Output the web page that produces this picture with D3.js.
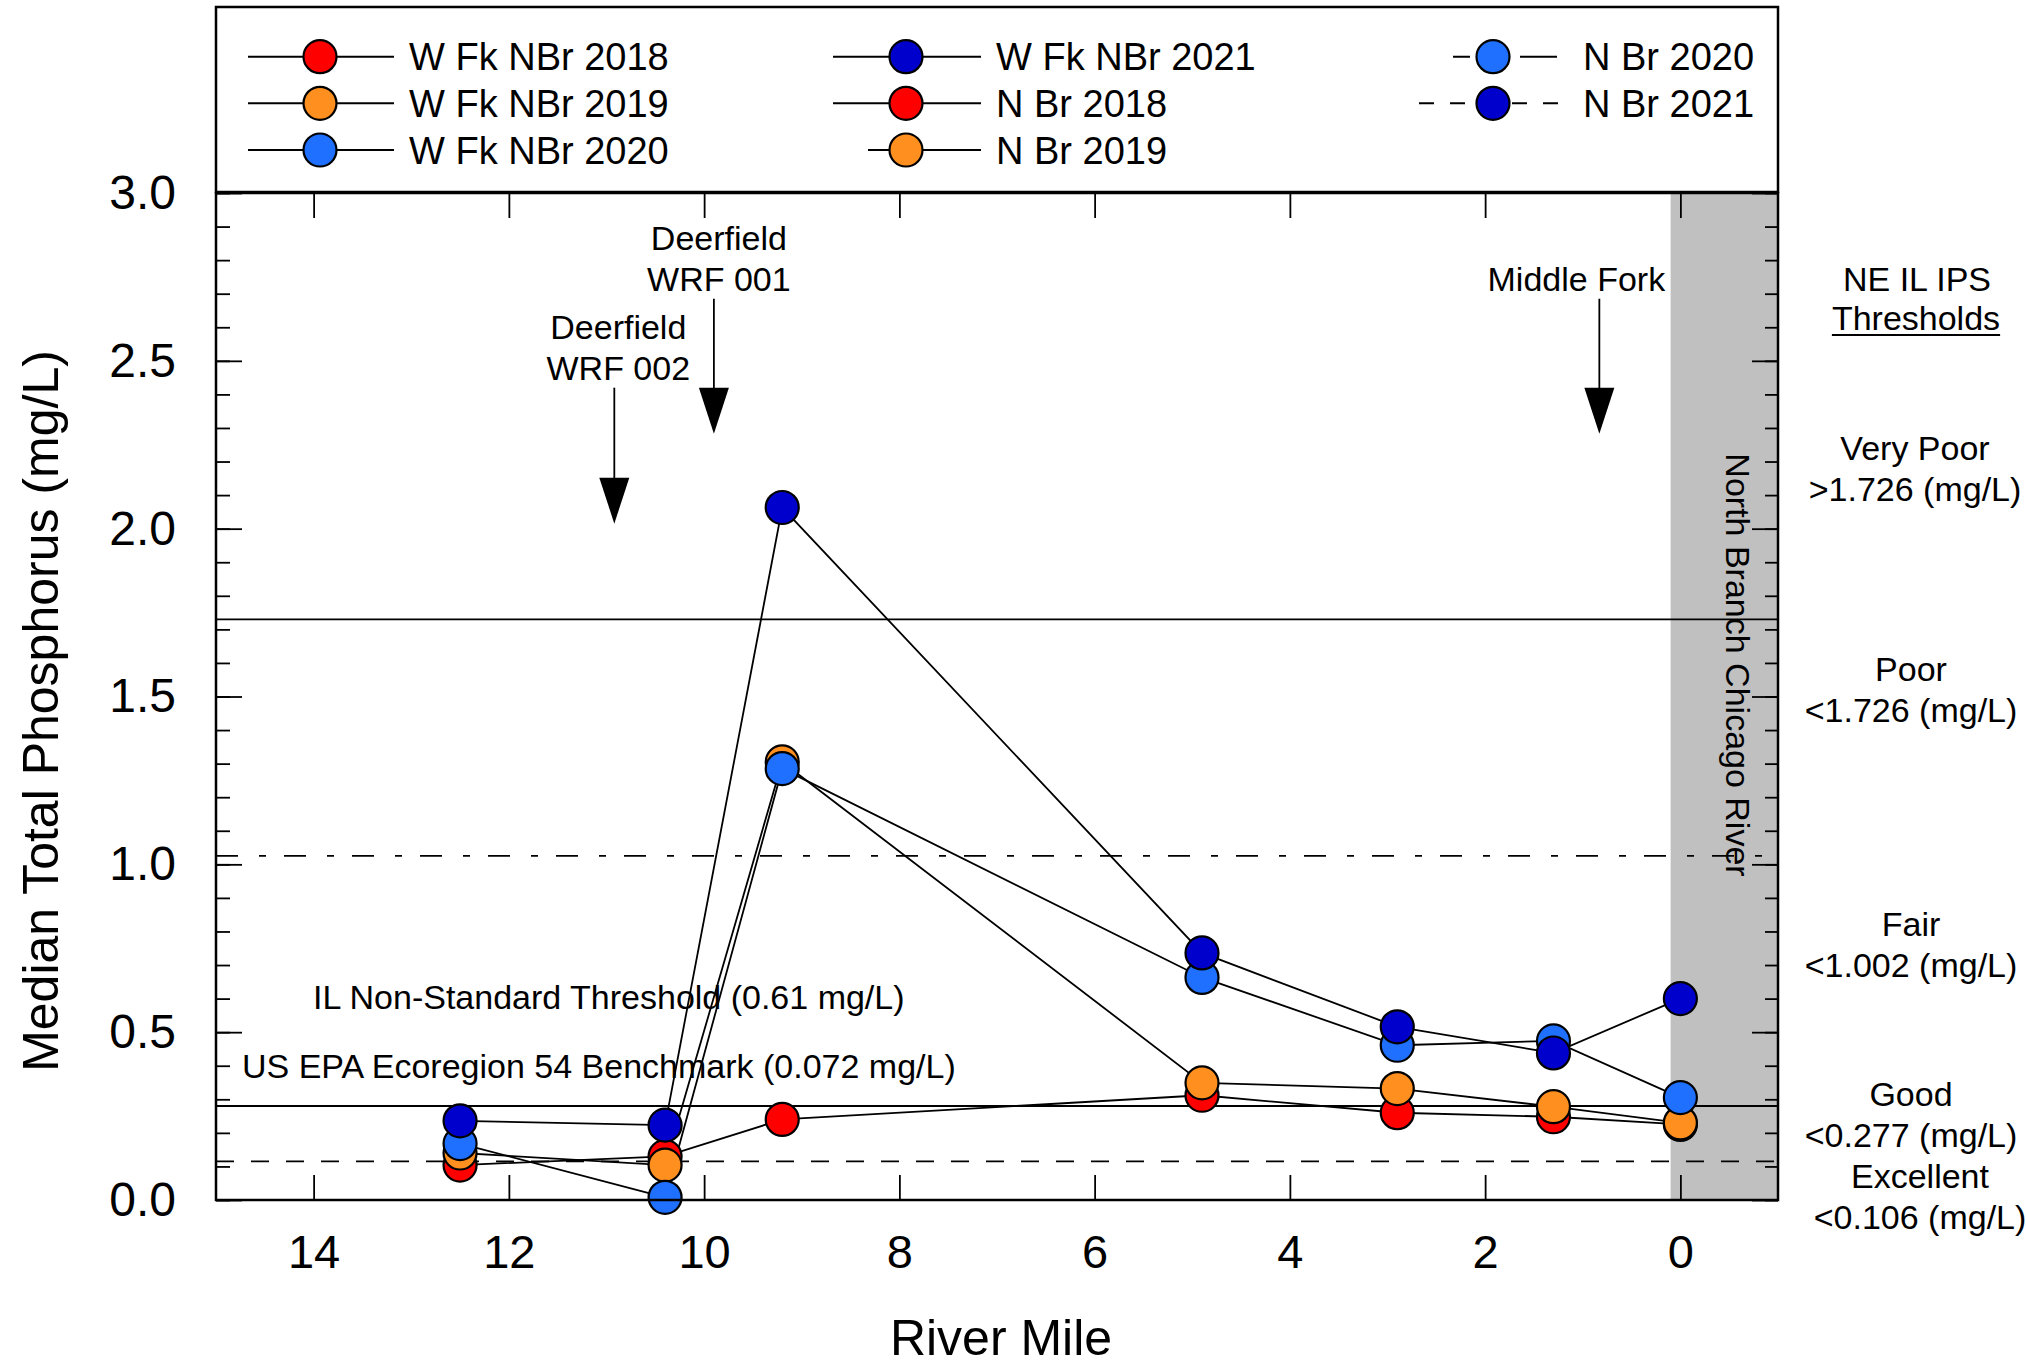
<!DOCTYPE html>
<html>
<head>
<meta charset="utf-8">
<script src="https://cdn.jsdelivr.net/npm/d3@7/dist/d3.min.js"></script>
<style>
body { margin: 0; background: #fff; }
text { font-family: "Liberation Sans", Arial, sans-serif; fill: #000; }
</style>
</head>
<body>
<script>
// sampling sites, river mile
var wfkMiles = [12.5, 10.4, 9.2, 4.9, 2.9, 1.3];
var nbrMiles = [0.0];

// median total phosphorus (mg/L), W Fk NBr sites
var wfk2018 = [0.104, 0.13, 0.24, 0.312, 0.26, 0.248];
var wfk2019 = [0.14, 0.104, 1.305, 0.349, 0.332, 0.278];
var wfk2020 = [0.168, 0.008, 1.285, 0.663, 0.461, 0.474];
var wfk2021 = [0.236, 0.223, 2.063, 0.736, 0.516, 0.438];

// N Br site
var nbr2018 = [0.225];
var nbr2019 = [0.23];
var nbr2020 = [0.305];
var nbr2021 = [0.60];

var years = ["2018", "2019", "2020", "2021"];

// reference lines as drawn
var thresholdValues = [1.73, 1.025, 0.28, 0.115];

var xTickValues = [14, 12, 10, 8, 6, 4, 2, 0];
var yMajorTicks = [0, 0.5, 1.0, 1.5, 2.0, 2.5, 3.0];
var yMinorTicks = d3.range(0, 31).map(function(i) { return i / 10; });

// outfall / tributary arrows
var arrowLabels = [["Deerfield", "WRF 002"], ["Deerfield", "WRF 001"], ["Middle Fork"]];
var arrowMiles = [10.92, 9.9, 0.83];
var arrowTop = [2.42, 2.685, 2.685];
var arrowBottom = [2.015, 2.283, 2.283];

var ipsLabels = [["Very Poor", ">1.726 (mg/L)"], ["Poor", "<1.726 (mg/L)"],
                 ["Fair", "<1.002 (mg/L)"], ["Good", "<0.277 (mg/L)"], ["Excellent", "<0.106 (mg/L)"]];

var colors = {"2018": "#ff0000", "2019": "#ff8f1f", "2020": "#2070ff", "2021": "#0000cc"};

var wfk = {"2018": wfk2018, "2019": wfk2019, "2020": wfk2020, "2021": wfk2021};
var nbr = {"2018": nbr2018, "2019": nbr2019, "2020": nbr2020, "2021": nbr2021};

//svg
var svg = d3.select("body").append("svg")
    .attr("width", 2026)
    .attr("height", 1369);

svg.append("rect").attr("width", 2026).attr("height", 1369).attr("fill", "#fff");

var pLeft = 216, pRight = 1778, pTop = 193, pBottom = 1200;

var x = d3.scaleLinear().domain([15, -1]).range([pLeft, pRight]);
var y = d3.scaleLinear().domain([0, 3]).range([pBottom, pTop]);

// gray band for North Branch
svg.append("rect")
    .attr("x", x(0.1))
    .attr("y", pTop)
    .attr("width", pRight - x(0.1))
    .attr("height", pBottom - pTop)
    .attr("fill", "#c0c0c0");

svg.append("text")
    .attr("transform", "translate(1726," + 665 + ") rotate(90)")
    .attr("text-anchor", "middle")
    .style("font-size", "34px")
    .text("North Branch Chicago River");

// axes (ticks inward, no domain)
function clean(g) { g.select(".domain").remove(); g.selectAll("line").attr("stroke", "#000").attr("stroke-width", 1.8); }

svg.append("g").attr("transform", "translate(" + pLeft + ",0)")
    .call(d3.axisLeft(y).tickValues(yMinorTicks).tickSize(-14).tickFormat(""))
    .call(clean);
svg.append("g").attr("transform", "translate(" + pLeft + ",0)")
    .call(d3.axisLeft(y).tickValues(yMajorTicks).tickSize(-26).tickPadding(40).tickFormat(d3.format(".1f")))
    .call(clean)
    .selectAll("text").style("font-size", "48px").attr("font-family", null);

svg.append("g").attr("transform", "translate(" + pRight + ",0)")
    .call(d3.axisRight(y).tickValues(yMinorTicks).tickSize(-13).tickFormat(""))
    .call(clean);
svg.append("g").attr("transform", "translate(" + pRight + ",0)")
    .call(d3.axisRight(y).tickValues(yMajorTicks).tickSize(-26).tickFormat(""))
    .call(clean);

svg.append("g").attr("transform", "translate(0," + pBottom + ")")
    .call(d3.axisBottom(x).tickValues(xTickValues).tickSize(-25).tickPadding(35).tickFormat(d3.format("d")))
    .call(clean)
    .selectAll("text").style("font-size", "47px").attr("font-family", null);
svg.append("g").attr("transform", "translate(0," + pTop + ")")
    .call(d3.axisTop(x).tickValues(xTickValues).tickSize(-25).tickFormat(""))
    .call(clean);

// threshold lines
var dashes = [null, "22,21,7,18", null, "18,17"];
thresholdValues.forEach(function(v, i) {
    svg.append("line")
        .attr("x1", pLeft).attr("x2", pRight)
        .attr("y1", y(v)).attr("y2", y(v))
        .attr("stroke", "#000").attr("stroke-width", 1.8)
        .attr("stroke-dasharray", dashes[i]);
});

// benchmark notes
svg.append("text").attr("x", 313).attr("y", 1009).style("font-size", "34px")
    .text("IL Non-Standard Threshold (0.61 mg/L)");
svg.append("text").attr("x", 242).attr("y", 1078).style("font-size", "34px")
    .text("US EPA Ecoregion 54 Benchmark (0.072 mg/L)");

// arrows
var labelShift = [4, 5, -23];
arrowMiles.forEach(function(m, i) {
    var ax = x(m), y0 = y(arrowTop[i]), y1 = y(arrowBottom[i]);
    svg.append("line").attr("x1", ax).attr("x2", ax).attr("y1", y0).attr("y2", y1 - 30)
        .attr("stroke", "#000").attr("stroke-width", 1.8);
    svg.append("path")
        .attr("d", "M" + (ax - 15) + "," + (y1 - 46) + "L" + (ax + 15) + "," + (y1 - 46) + "L" + ax + "," + y1 + "Z")
        .attr("fill", "#000");
    var lines = arrowLabels[i];
    lines.forEach(function(t, j) {
        svg.append("text")
            .attr("x", ax + labelShift[i])
            .attr("y", y0 - 8 - (lines.length - 1 - j) * 41)
            .attr("text-anchor", "middle")
            .style("font-size", "34px")
            .text(t);
    });
});

// data lines
var line = d3.line().x(function(d) { return x(d[0]); }).y(function(d) { return y(d[1]); });

function pts(year) {
    var a = wfkMiles.map(function(m, i) { return [m, wfk[year][i]]; });
    var b = nbrMiles.map(function(m, i) { return [m, nbr[year][i]]; });
    return a.concat(b);
}

years.forEach(function(yr) {
    svg.append("path")
        .datum(pts(yr))
        .attr("d", line)
        .attr("fill", "none")
        .attr("stroke", "#000")
        .attr("stroke-width", 1.8);
});

years.forEach(function(yr) {
    svg.selectAll(null)
        .data(pts(yr))
        .enter().append("circle")
        .attr("cx", function(d) { return x(d[0]); })
        .attr("cy", function(d) { return y(d[1]); })
        .attr("r", 16.5)
        .attr("fill", colors[yr])
        .attr("stroke", "#000")
        .attr("stroke-width", 2.2);
});

// frame
svg.append("rect")
    .attr("x", pLeft).attr("y", pTop)
    .attr("width", pRight - pLeft).attr("height", pBottom - pTop)
    .attr("fill", "none").attr("stroke", "#000").attr("stroke-width", 2.5);

// legend
svg.append("rect")
    .attr("x", pLeft).attr("y", 7)
    .attr("width", pRight - pLeft).attr("height", 185)
    .attr("fill", "none").attr("stroke", "#000").attr("stroke-width", 2.5);

var legendItems = [
    {name: "W Fk NBr 2018", yr: "2018", col: 0, row: 0},
    {name: "W Fk NBr 2019", yr: "2019", col: 0, row: 1},
    {name: "W Fk NBr 2020", yr: "2020", col: 0, row: 2},
    {name: "W Fk NBr 2021", yr: "2021", col: 1, row: 0},
    {name: "N Br 2018", yr: "2018", col: 1, row: 1},
    {name: "N Br 2019", yr: "2019", col: 1, row: 2, x1: 868},
    {name: "N Br 2020", yr: "2020", col: 2, row: 0, x1: 1453, x2: 1557, dash: "17,50,37"},
    {name: "N Br 2021", yr: "2021", col: 2, row: 1, x1: 1419, x2: 1567, dash: "15,16"}
];
var colX = [{x1: 248, x2: 394, m: 320, t: 409}, {x1: 833, x2: 981, m: 906, t: 996}, {x1: 1420, x2: 1565, m: 1493, t: 1583}];
var rowY = [56.7, 103.3, 150];

legendItems.forEach(function(d) {
    var c = colX[d.col], ly = rowY[d.row];
    svg.append("line")
        .attr("x1", d.x1 || c.x1).attr("x2", d.x2 || c.x2)
        .attr("y1", ly).attr("y2", ly)
        .attr("stroke", "#000").attr("stroke-width", 2)
        .attr("stroke-dasharray", d.dash || null);
    svg.append("circle")
        .attr("cx", c.m).attr("cy", ly).attr("r", 16.5)
        .attr("fill", colors[d.yr]).attr("stroke", "#000").attr("stroke-width", 2.2);
    svg.append("text")
        .attr("x", c.t).attr("y", ly + 13.5)
        .style("font-size", "38px")
        .text(d.name);
});

// NE IL IPS thresholds
svg.append("text").attr("x", 1917).attr("y", 291).attr("text-anchor", "middle")
    .style("font-size", "34px").text("NE IL IPS");
var th = svg.append("text").attr("x", 1916).attr("y", 330).attr("text-anchor", "middle")
    .style("font-size", "34px").text("Thresholds");
var tw = th.node().getComputedTextLength();
svg.append("line").attr("x1", 1916 - tw / 2).attr("x2", 1916 + tw / 2)
    .attr("y1", 335).attr("y2", 335).attr("stroke", "#000").attr("stroke-width", 2);

var ipsY = [448, 669, 924, 1094, 1176];
var ipsX = [1915, 1911, 1911, 1911, 1920];
ipsLabels.forEach(function(pair, i) {
    pair.forEach(function(t, j) {
        svg.append("text")
            .attr("x", ipsX[i])
            .attr("y", ipsY[i] + 12 + j * 41)
            .attr("text-anchor", "middle")
            .style("font-size", "34px")
            .text(t);
    });
});

// axis titles
svg.append("text")
    .attr("transform", "translate(58,711) rotate(-90)")
    .attr("text-anchor", "middle")
    .style("font-size", "50px")
    .text("Median Total Phosphorus (mg/L)");

svg.append("text")
    .attr("x", 1001).attr("y", 1355)
    .attr("text-anchor", "middle")
    .style("font-size", "50px")
    .text("River Mile");
</script>
</body>
</html>
